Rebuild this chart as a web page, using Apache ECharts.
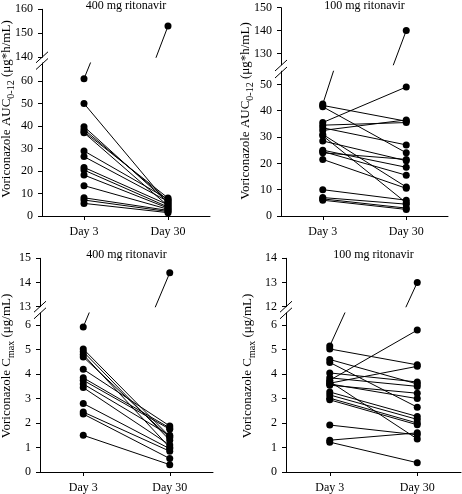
<!DOCTYPE html>
<html><head><meta charset="utf-8">
<script src="https://cdn.jsdelivr.net/npm/echarts@6/dist/echarts.min.js"></script>
<style>html,body{margin:0;padding:0;background:#fff}#c{width:462px;height:494px}</style>
</head><body><div id="c"></div>
<script>
// ---------- data ----------
const categories = ['Day 3', 'Day 30'];
const panelTitles = ['400 mg ritonavir', '100 mg ritonavir', '400 mg ritonavir', '100 mg ritonavir'];

// Top-left: AUC, 400 mg ritonavir
const aucHighDay3  = [61, 50, 39.7, 38.5, 37.5, 37, 28.9, 26.4, 21.6, 20.4, 18.2, 13.5, 8.1, 7.1, 5.6];
const aucHighDay30 = [153, 5.5, 6, 7, 8, 4.5, 7.5, 6.5, 5, 4, 3.5, 3, 2.5, 2, 1.5];
// Top-right: AUC, 100 mg ritonavir
const aucLowDay3  = [42.5, 42, 41.5, 35.5, 34.5, 33.5, 32.5, 31, 30.5, 28.5, 25, 24.5, 24, 21.5, 10, 7, 6.5, 6];
const aucLowDay30 = [140, 36, 24, 49, 35.5, 27, 36.5, 11, 5, 21, 18.5, 15.5, 21.5, 10.5, 6, 4.5, 3, 2.5];
// Bottom-left: Cmax, 400 mg ritonavir
const cmaxHighDay3  = [5.93, 5.03, 4.92, 4.8, 4.7, 4.2, 3.85, 3.75, 3.6, 3.45, 2.8, 2.45, 2.37, 1.5];
const cmaxHighDay30 = [14.4, 1.45, 1.3, 1.0, 1.4, 1.88, 1.8, 1.75, 1.5, 1.1, 0.95, 0.85, 0.55, 0.3];
// Bottom-right: Cmax, 100 mg ritonavir
const cmaxLowDay3  = [5.15, 5.03, 4.6, 4.48, 4.05, 3.85, 3.75, 3.7, 3.63, 3.55, 3.27, 3.15, 3.02, 2.95, 3.6, 1.92, 1.3, 1.22];
const cmaxLowDay30 = [13.0, 4.38, 3.6, 2.65, 3.68, 3.5, 5.8, 1.35, 4.32, 3.22, 2.27, 2.15, 2.0, 1.93, 3.0, 1.52, 1.6, 0.38];

// tick labels
const ticksAucHighUpper = [140, 150, 160];
const ticksAucHighLower = [0, 10, 20, 30, 40, 50, 60];
const ticksAucLowUpper  = [130, 140, 150];
const ticksAucLowLower  = [0, 10, 20, 30, 40, 50];
const ticksCmaxHighUpper = [13, 14, 15];
const ticksCmaxLowUpper  = [12, 13, 14];
const ticksCmaxLower     = [0, 1, 2, 3, 4, 5, 6];

// ---------- layout ----------
const FONT = "'Liberation Serif', 'Times New Roman', serif";
const panels = [
  { day3: aucHighDay3, day30: aucHighDay30, title: panelTitles[0], kind: 'auc',
    left: 42, width: 168, upTop: 9.3, upH: 48, loTop: 63, loH: 153,
    upMin: 140, upMax: 160, loMin: 0, loMax: 68, upTicks: ticksAucHighUpper, loTicks: ticksAucHighLower,
    slashes: [57.3, 64], nameX: 7, nameY: 109, titleTop: 0 },
  { day3: aucLowDay3, day30: aucLowDay30, title: panelTitles[1], kind: 'auc',
    left: 281, width: 167, upTop: 7.7, upH: 57.1, loTop: 71.2, loH: 144.8,
    upMin: 125, upMax: 150, loMin: 0, loMax: 55, upTicks: ticksAucLowUpper, loTicks: ticksAucLowLower,
    slashes: [65.5, 72.5], nameX: 246, nameY: 111, titleTop: 0 },
  { day3: cmaxHighDay3, day30: cmaxHighDay30, title: panelTitles[2], kind: 'cmax',
    left: 40, width: 173, upTop: 258.3, upH: 48.4, loTop: 313, loH: 159.3,
    upMin: 13, upMax: 15, loMin: 0, loMax: 6.5, upTicks: ticksCmaxHighUpper, loTicks: ticksCmaxLower,
    slashes: [306.7, 313.3], nameX: 7, nameY: 366, titleTop: 249 },
  { day3: cmaxLowDay3, day30: cmaxLowDay30, title: panelTitles[3], kind: 'cmax',
    left: 286, width: 175, upTop: 258.3, upH: 48.4, loTop: 313, loH: 159.3,
    upMin: 12, upMax: 14, loMin: 0, loMax: 6.5, upTicks: ticksCmaxLowUpper, loTicks: ticksCmaxLower,
    slashes: [306.7, 313.3], nameX: 248, nameY: 366, titleTop: 249 }
];

const grid = [], xAxis = [], yAxis = [], series = [], graphic = [], title = [];
const black = '#000';
const labelStyle = { color: black, fontFamily: FONT, fontSize: 12 };

panels.forEach((p, pi) => {
  const parts = [
    { top: p.upTop, height: p.upH, min: p.upMin, max: p.upMax, ticks: p.upTicks, lower: false },
    { top: p.loTop, height: p.loH, min: p.loMin, max: p.loMax, ticks: p.loTicks, lower: true }
  ];
  parts.forEach(part => {
    const gi = grid.length;
    grid.push({ left: p.left, width: p.width, top: part.top, height: part.height, containLabel: false });
    xAxis.push({
      type: 'category', gridIndex: gi, data: categories, boundaryGap: true,
      show: part.lower,
      axisLine: { show: true, lineStyle: { color: black, width: 1 } },
      axisTick: { show: true, alignWithLabel: true, length: 4, lineStyle: { color: black } },
      axisLabel: Object.assign({ margin: 10 }, labelStyle),
      splitLine: { show: false }
    });
    yAxis.push({
      type: 'value', gridIndex: gi, min: part.min, max: part.max,
      axisLine: { show: true, lineStyle: { color: black, width: 1 } },
      axisTick: { show: true, length: 4, lineStyle: { color: black }, customValues: part.ticks },
      axisLabel: Object.assign({ margin: 9, customValues: part.ticks }, labelStyle),
      splitLine: { show: false }
    });
    p.day3.forEach((v, i) => {
      series.push({
        type: 'line', xAxisIndex: gi, yAxisIndex: gi,
        data: [v, p.day30[i]],
        symbol: 'circle', symbolSize: 7, clip: true, silent: true,
        lineStyle: { color: black, width: 1 }, itemStyle: { color: black },
        animation: false
      });
    });
  });

  // axis break marks
  const axX = p.left;
  p.slashes.forEach(sy => {
    graphic.push({ type: 'line', silent: true,
      shape: { x1: axX - 6, y1: sy + 5.5, x2: axX + 6, y2: sy - 5.5 },
      style: { stroke: black, lineWidth: 1 } });
  });

  // y-axis name (spans both segments)
  const rich = {
    n: { fontFamily: FONT, fontSize: 13, lineHeight: 18, verticalAlign: 'middle', fill: black },
    s: { fontFamily: FONT, fontSize: 10, lineHeight: 10, verticalAlign: 'bottom', fill: black }
  };
  const txt = p.kind === 'auc'
    ? '{n|Voriconazole AUC}{s|0-12}{n| (μg*h/mL)}'
    : '{n|Voriconazole C}{s|max}{n| (μg/mL)}';
  graphic.push({ type: 'text', x: p.nameX, y: p.nameY, rotation: Math.PI / 2, silent: true,
    style: { text: txt, rich: rich, align: 'center', verticalAlign: 'middle', fill: black } });

  title.push({ text: p.title, left: p.left + p.width / 2, top: p.titleTop, textAlign: 'center', padding: 0,
    textStyle: { fontFamily: FONT, fontSize: 12, fontWeight: 'normal', color: black } });
});

const chart = echarts.init(document.getElementById('c'), null, { renderer: 'canvas' });
chart.setOption({
  backgroundColor: '#fff',
  animation: false,
  title, grid, xAxis, yAxis, series, graphic
});
</script></body></html>
